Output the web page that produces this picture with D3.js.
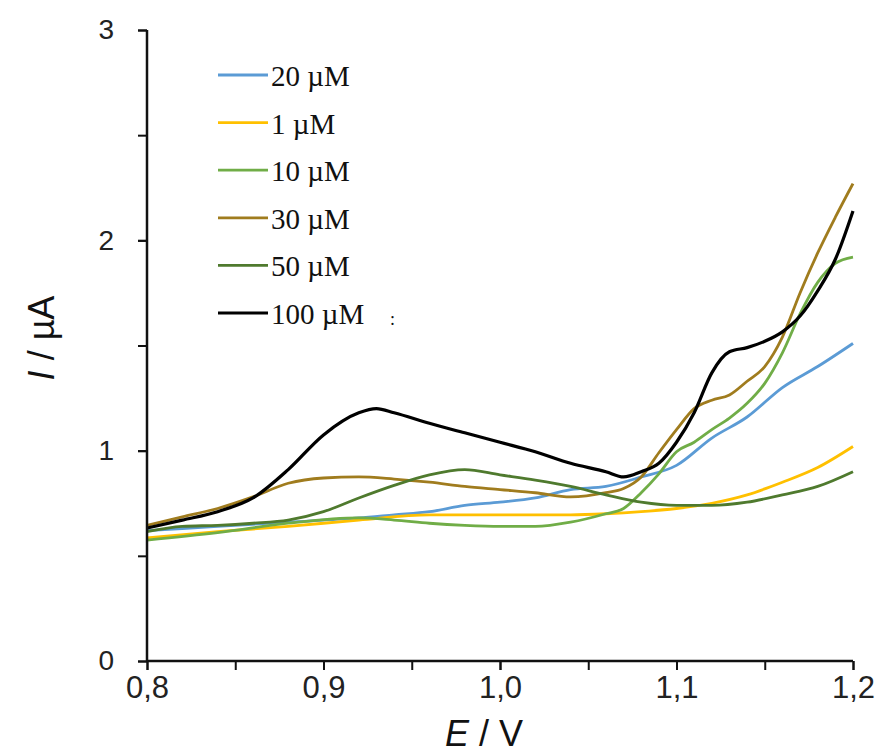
<!DOCTYPE html>
<html lang="en">
  <head>
    <meta charset="utf-8" />
    <title>Voltammograms</title>
    <script src="https://cdnjs.cloudflare.com/ajax/libs/d3/7.8.5/d3.min.js"></script>
    <style>
      body {
        margin: 0;
        background: #fff;
      }
      .x-axis .tick text {
        font-family: "Liberation Sans", Arial, sans-serif;
        font-size: 31px;
        fill: #222;
      }
      .y-axis .tick text {
        font-family: "Liberation Sans", Arial, sans-serif;
        font-size: 28px;
        fill: #222;
      }
      .axis-title {
        font-family: "Liberation Sans", Arial, sans-serif;
        font-size: 36px;
        fill: #111;
      }
      .legend text {
        font-family: "Liberation Serif", "Times New Roman", serif;
        font-size: 29px;
        fill: #111;
      }
    </style>
  </head>
  <body>
    <div id="chart"></div>
    <script>
      // potential (V) / current (µA) pairs
      const s20 = [[0.80,0.62],[0.84,0.64],[0.88,0.66],[0.92,0.68],[0.94,0.695],[0.96,0.71],[0.98,0.74],[1.00,0.755],[1.02,0.775],[1.04,0.815],[1.06,0.83],[1.08,0.875],[1.10,0.93],[1.12,1.06],[1.14,1.16],[1.16,1.30],[1.18,1.40],[1.20,1.51]];
      const s1 = [[0.80,0.585],[0.84,0.615],[0.88,0.64],[0.92,0.67],[0.96,0.695],[1.00,0.695],[1.04,0.695],[1.06,0.70],[1.08,0.71],[1.10,0.725],[1.12,0.75],[1.14,0.79],[1.16,0.85],[1.18,0.92],[1.20,1.02]];
      const s10 = [[0.80,0.575],[0.84,0.61],[0.88,0.655],[0.92,0.68],[0.94,0.67],[0.96,0.655],[0.98,0.645],[1.00,0.64],[1.02,0.64],[1.04,0.66],[1.06,0.70],[1.07,0.725],[1.08,0.80],[1.09,0.89],[1.10,0.995],[1.11,1.04],[1.12,1.10],[1.13,1.155],[1.14,1.225],[1.15,1.32],[1.16,1.465],[1.17,1.65],[1.18,1.80],[1.19,1.89],[1.20,1.92]];
      const s30 = [[0.80,0.645],[0.82,0.685],[0.84,0.725],[0.86,0.78],[0.88,0.845],[0.90,0.87],[0.92,0.875],[0.94,0.865],[0.96,0.85],[0.98,0.83],[1.00,0.815],[1.02,0.80],[1.04,0.78],[1.06,0.80],[1.07,0.82],[1.08,0.875],[1.09,0.99],[1.10,1.10],[1.11,1.20],[1.12,1.24],[1.13,1.265],[1.14,1.33],[1.15,1.40],[1.16,1.54],[1.17,1.75],[1.18,1.94],[1.19,2.11],[1.20,2.27]];
      const s50 = [[0.80,0.615],[0.82,0.64],[0.84,0.645],[0.86,0.655],[0.88,0.67],[0.90,0.71],[0.92,0.775],[0.94,0.835],[0.96,0.885],[0.98,0.91],[1.00,0.885],[1.02,0.86],[1.04,0.83],[1.06,0.79],[1.08,0.755],[1.10,0.74],[1.12,0.74],[1.14,0.755],[1.16,0.79],[1.18,0.83],[1.20,0.90]];
      const s100 = [[0.80,0.632],[0.82,0.67],[0.84,0.71],[0.86,0.775],[0.88,0.91],[0.90,1.075],[0.92,1.18],[0.93,1.20],[0.94,1.18],[0.96,1.13],[0.98,1.085],[1.00,1.04],[1.02,0.995],[1.04,0.94],[1.06,0.90],[1.07,0.875],[1.08,0.90],[1.09,0.94],[1.10,1.04],[1.11,1.18],[1.12,1.37],[1.13,1.47],[1.14,1.49],[1.15,1.52],[1.16,1.565],[1.17,1.64],[1.18,1.76],[1.19,1.91],[1.20,2.14]];

      const legendNames = ["20 µM", "1 µM", "10 µM", "30 µM", "50 µM", "100 µM"];
      const seriesData = [s20, s1, s10, s30, s50, s100];
      const colors = ["#5b9bd5", "#ffc000", "#70ad47", "#a07c1e", "#4f7a2e", "#000000"];

      const xTicks = [0.8, 0.9, 1.0, 1.1, 1.2];
      const yTicks = [0, 1, 2, 3];

      const width = 880, height = 756;
      const svg = d3.select("#chart").append("svg")
        .attr("width", width).attr("height", height);

      const x = d3.scaleLinear().domain([0.8, 1.2]).range([147, 853]);
      const y = d3.scaleLinear().domain([0, 3]).range([661, 30]);

      // minor ticks first (no labels)
      svg.append("g")
        .attr("transform", "translate(0,661)")
        .call(d3.axisBottom(x).tickValues(d3.range(0.8, 1.2001, 0.05)).tickSize(9).tickFormat(""))
        .call(g => g.select(".domain").remove())
        .call(g => g.selectAll("line").attr("stroke", "#111").attr("stroke-width", 2));
      svg.append("g")
        .attr("transform", "translate(147,0)")
        .call(d3.axisLeft(y).tickValues(d3.range(0, 3.001, 0.5)).tickSize(9).tickFormat(""))
        .call(g => g.select(".domain").remove())
        .call(g => g.selectAll("line").attr("stroke", "#111").attr("stroke-width", 2));

      // curves
      const line = d3.line()
        .x(d => x(d[0]))
        .y(d => y(d[1]))
        .curve(d3.curveMonotoneX);

      svg.append("g").selectAll("path")
        .data(seriesData)
        .join("path")
        .attr("d", line)
        .attr("fill", "none")
        .attr("stroke", (d, i) => colors[i])
        .attr("stroke-width", (d, i) => i === 5 ? 3.2 : 2.8)
        .attr("stroke-linejoin", "round");

      // main axes
      const xAxis = svg.append("g")
        .attr("class", "x-axis")
        .attr("transform", "translate(0,661)")
        .call(d3.axisBottom(x).tickValues(xTicks).tickSize(9).tickPadding(6)
          .tickFormat(d => d3.format(".1f")(d).replace(".", ",")));
      xAxis.select(".domain").attr("stroke", "#111").attr("stroke-width", 2.5).attr("d", "M147,0H853");
      xAxis.selectAll("line").attr("stroke", "#111").attr("stroke-width", 2);

      const yAxis = svg.append("g")
        .attr("class", "y-axis")
        .attr("transform", "translate(147,0)")
        .call(d3.axisLeft(y).tickValues(yTicks).tickSize(9).tickPadding(24).tickFormat(d3.format("d")));
      yAxis.select(".domain").attr("stroke", "#111").attr("stroke-width", 2.5).attr("d", "M0,30V661");
      yAxis.selectAll("line").attr("stroke", "#111").attr("stroke-width", 2);

      // axis titles
      const xt = svg.append("text").attr("class", "axis-title")
        .attr("x", 484).attr("y", 746).attr("text-anchor", "middle");
      xt.append("tspan").attr("font-style", "italic").text("E");
      xt.append("tspan").text(" / V");

      const yt = svg.append("text").attr("class", "axis-title")
        .attr("transform", "translate(54,338) rotate(-90)")
        .attr("text-anchor", "middle");
      yt.append("tspan").attr("font-style", "italic").text("I");
      yt.append("tspan").text(" / µA");

      // legend
      const legend = svg.append("g").attr("class", "legend");
      const rows = legend.selectAll("g")
        .data(legendNames)
        .join("g")
        .attr("transform", (d, i) => `translate(218,${75 + i * 47.6})`);
      rows.append("line")
        .attr("x1", 0).attr("x2", 50)
        .attr("stroke", (d, i) => colors[i])
        .attr("stroke-width", (d, i) => i === 5 ? 3.2 : 2.8);
      rows.append("text")
        .attr("x", 53).attr("y", 11)
        .text(d => d);
      legend.append("text")
        .attr("x", 390).attr("y", 75 + 5 * 47.6 + 12)
        .style("font-size", "18px")
        .text(":");
    </script>
  </body>
</html>
